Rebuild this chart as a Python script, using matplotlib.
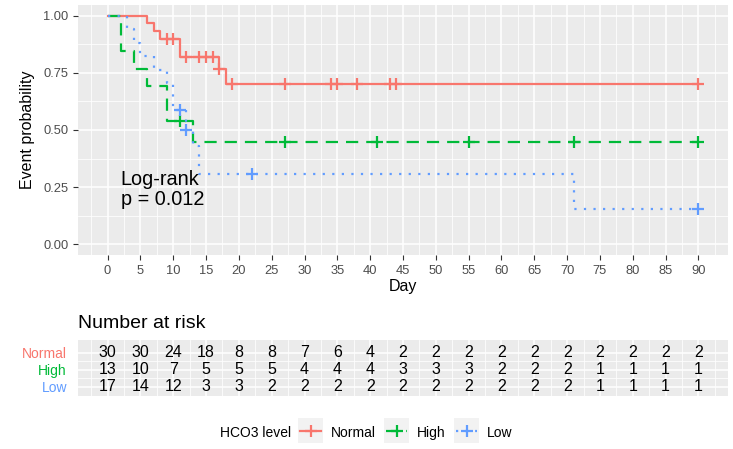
import numpy as np
import matplotlib
matplotlib.use("Agg")
import matplotlib.pyplot as plt
from matplotlib.patches import Rectangle

plt.rcParams["font.family"] = ["Liberation Sans", "DejaVu Sans"]

# groups and colours (ggplot default hue palette)
groups = ["Normal", "High", "Low"]
colors = ["#F8766D", "#00BA38", "#619CFF"]

# Kaplan-Meier steps (time, survival)
normal_t = [0, 6, 7, 8, 11, 17, 18, 90]
normal_s = [1.0, 0.967, 0.933, 0.900, 0.822, 0.767, 0.703, 0.703]
normal_cens = [9, 10, 12, 14, 15, 16, 17, 19, 27, 34, 35, 38, 43, 44, 90]

high_t = [0, 2, 4, 6, 9, 13, 90]
high_s = [1.0, 0.846, 0.769, 0.692, 0.538, 0.449, 0.449]
high_cens = [11, 27, 41, 55, 71, 90]

low_t = [0, 3, 4, 5, 7, 9, 10, 12, 13, 14, 71, 90]
low_s = [1.0, 0.941, 0.882, 0.824, 0.765, 0.706, 0.588, 0.500, 0.430, 0.307, 0.154, 0.154]
low_cens = [11, 12, 22, 90]

# number at risk table
risk_times = list(range(0, 95, 5))
risk_normal = [30, 30, 24, 18, 8, 8, 7, 6, 4, 2, 2, 2, 2, 2, 2, 2, 2, 2, 2]
risk_high = [13, 10, 7, 5, 5, 5, 4, 4, 4, 3, 3, 3, 2, 2, 2, 1, 1, 1, 1]
risk_low = [17, 14, 12, 3, 3, 2, 2, 2, 2, 2, 2, 2, 2, 2, 2, 1, 1, 1, 1]

curves = [(normal_t, normal_s, normal_cens), (high_t, high_s, high_cens), (low_t, low_s, low_cens)]
risks = [risk_normal, risk_high, risk_low]
styles = [dict(linestyle="-"), dict(linestyle=(0, (5.5, 3.6))), dict(linestyle=(0, (1, 3.3)))]

W, H = 733, 449
fig = plt.figure(figsize=(W / 100, H / 100), dpi=100)

panel_bg = "#EBEBEB"
tick_col = "#4D4D4D"
lw = 1.6


def style_panel(ax):
    ax.set_facecolor(panel_bg)
    for sp in ax.spines.values():
        sp.set_visible(False)
    ax.grid(which="major", color="white", linewidth=1.1)
    ax.grid(which="minor", color="white", linewidth=0.55)
    ax.set_axisbelow(True)
    ax.tick_params(which="major", length=3.5, width=0.8, color="#333333",
                   labelcolor=tick_col, labelsize=9.3)
    ax.tick_params(which="minor", length=0)


# main survival panel
ax = fig.add_axes([78 / W, 1 - 255 / H, 650 / W, 250 / H])
style_panel(ax)
for (t, s, cens), c, st in zip(curves, colors, styles):
    ax.step(t, s, where="post", color=c, linewidth=lw, **st)
    idx = np.searchsorted(t, cens, side="right") - 1
    ax.plot(cens, np.array(s)[idx], "+", color=c, markersize=8, markeredgewidth=1.6)

ax.set_xlim(-4.5, 94.5)
ax.set_ylim(-0.048, 1.048)
ax.set_xticks(risk_times)
ax.set_xticks(np.arange(-2.5, 95, 5), minor=True)
ax.set_yticks([0, 0.25, 0.5, 0.75, 1.0])
ax.set_yticklabels(["0.00", "0.25", "0.50", "0.75", "1.00"])
ax.set_yticks([0.125, 0.375, 0.625, 0.875], minor=True)
ax.set_xlabel("Day", fontsize=11.5, labelpad=2)
ax.set_ylabel("Event probability", fontsize=11.5, labelpad=6)
ax.text(2, 0.24, "Log-rank\np = 0.012", fontsize=14.3, ha="left", va="center",
        linespacing=1.1)

# risk table
ax_t = fig.add_axes([78 / W, 1 - 396 / H, 650 / W, 56 / H])
style_panel(ax_t)
rows = [3, 2, 1]
for r, vals in zip(rows, risks):
    for t, n in zip(risk_times, vals):
        ax_t.text(t, r, str(n), ha="center", va="center", fontsize=11.5, color="black")
ax_t.set_xlim(-4.5, 94.5)
ax_t.set_ylim(0.45, 3.75)
ax_t.set_xticks(risk_times)
ax_t.set_xticks(np.arange(-2.5, 95, 5), minor=True)
ax_t.set_yticks(rows)
ax_t.set_yticks([1.5, 2.5], minor=True)
ax_t.set_yticklabels(groups, fontsize=10)
ax_t.tick_params(axis="x", which="both", length=0, labelbottom=False)
ax_t.tick_params(axis="y", which="major", length=0, pad=8)
for lab, c in zip(ax_t.get_yticklabels(), colors):
    lab.set_color(c)
fig.text(78 / W, 1 - 323 / H, "Number at risk", fontsize=14, va="center", ha="left")

# legend at the bottom, drawn in pixel coordinates
ax_l = fig.add_axes([0, 0, 1, 49 / H])
ax_l.set_xlim(0, W)
ax_l.set_ylim(H, 400)
ax_l.axis("off")
ax_l.text(220, 433, "HCO3 level", fontsize=10, va="center", ha="left")
key_x = [298, 384, 454]
for g, c, st, kx in zip(groups, colors, styles, key_x):
    ax_l.add_patch(Rectangle((kx, 418), 25, 25, facecolor="#F2F2F2", edgecolor="none"))
    ax_l.plot([kx + 2, kx + 23], [430.5, 430.5], color=c, linewidth=lw, **st)
    ax_l.plot([kx + 12.5], [430.5], "+", color=c, markersize=8, markeredgewidth=1.6)
    ax_l.text(kx + 33, 433, g, fontsize=10, va="center", ha="left")

fig.savefig("out.png", dpi=100)
